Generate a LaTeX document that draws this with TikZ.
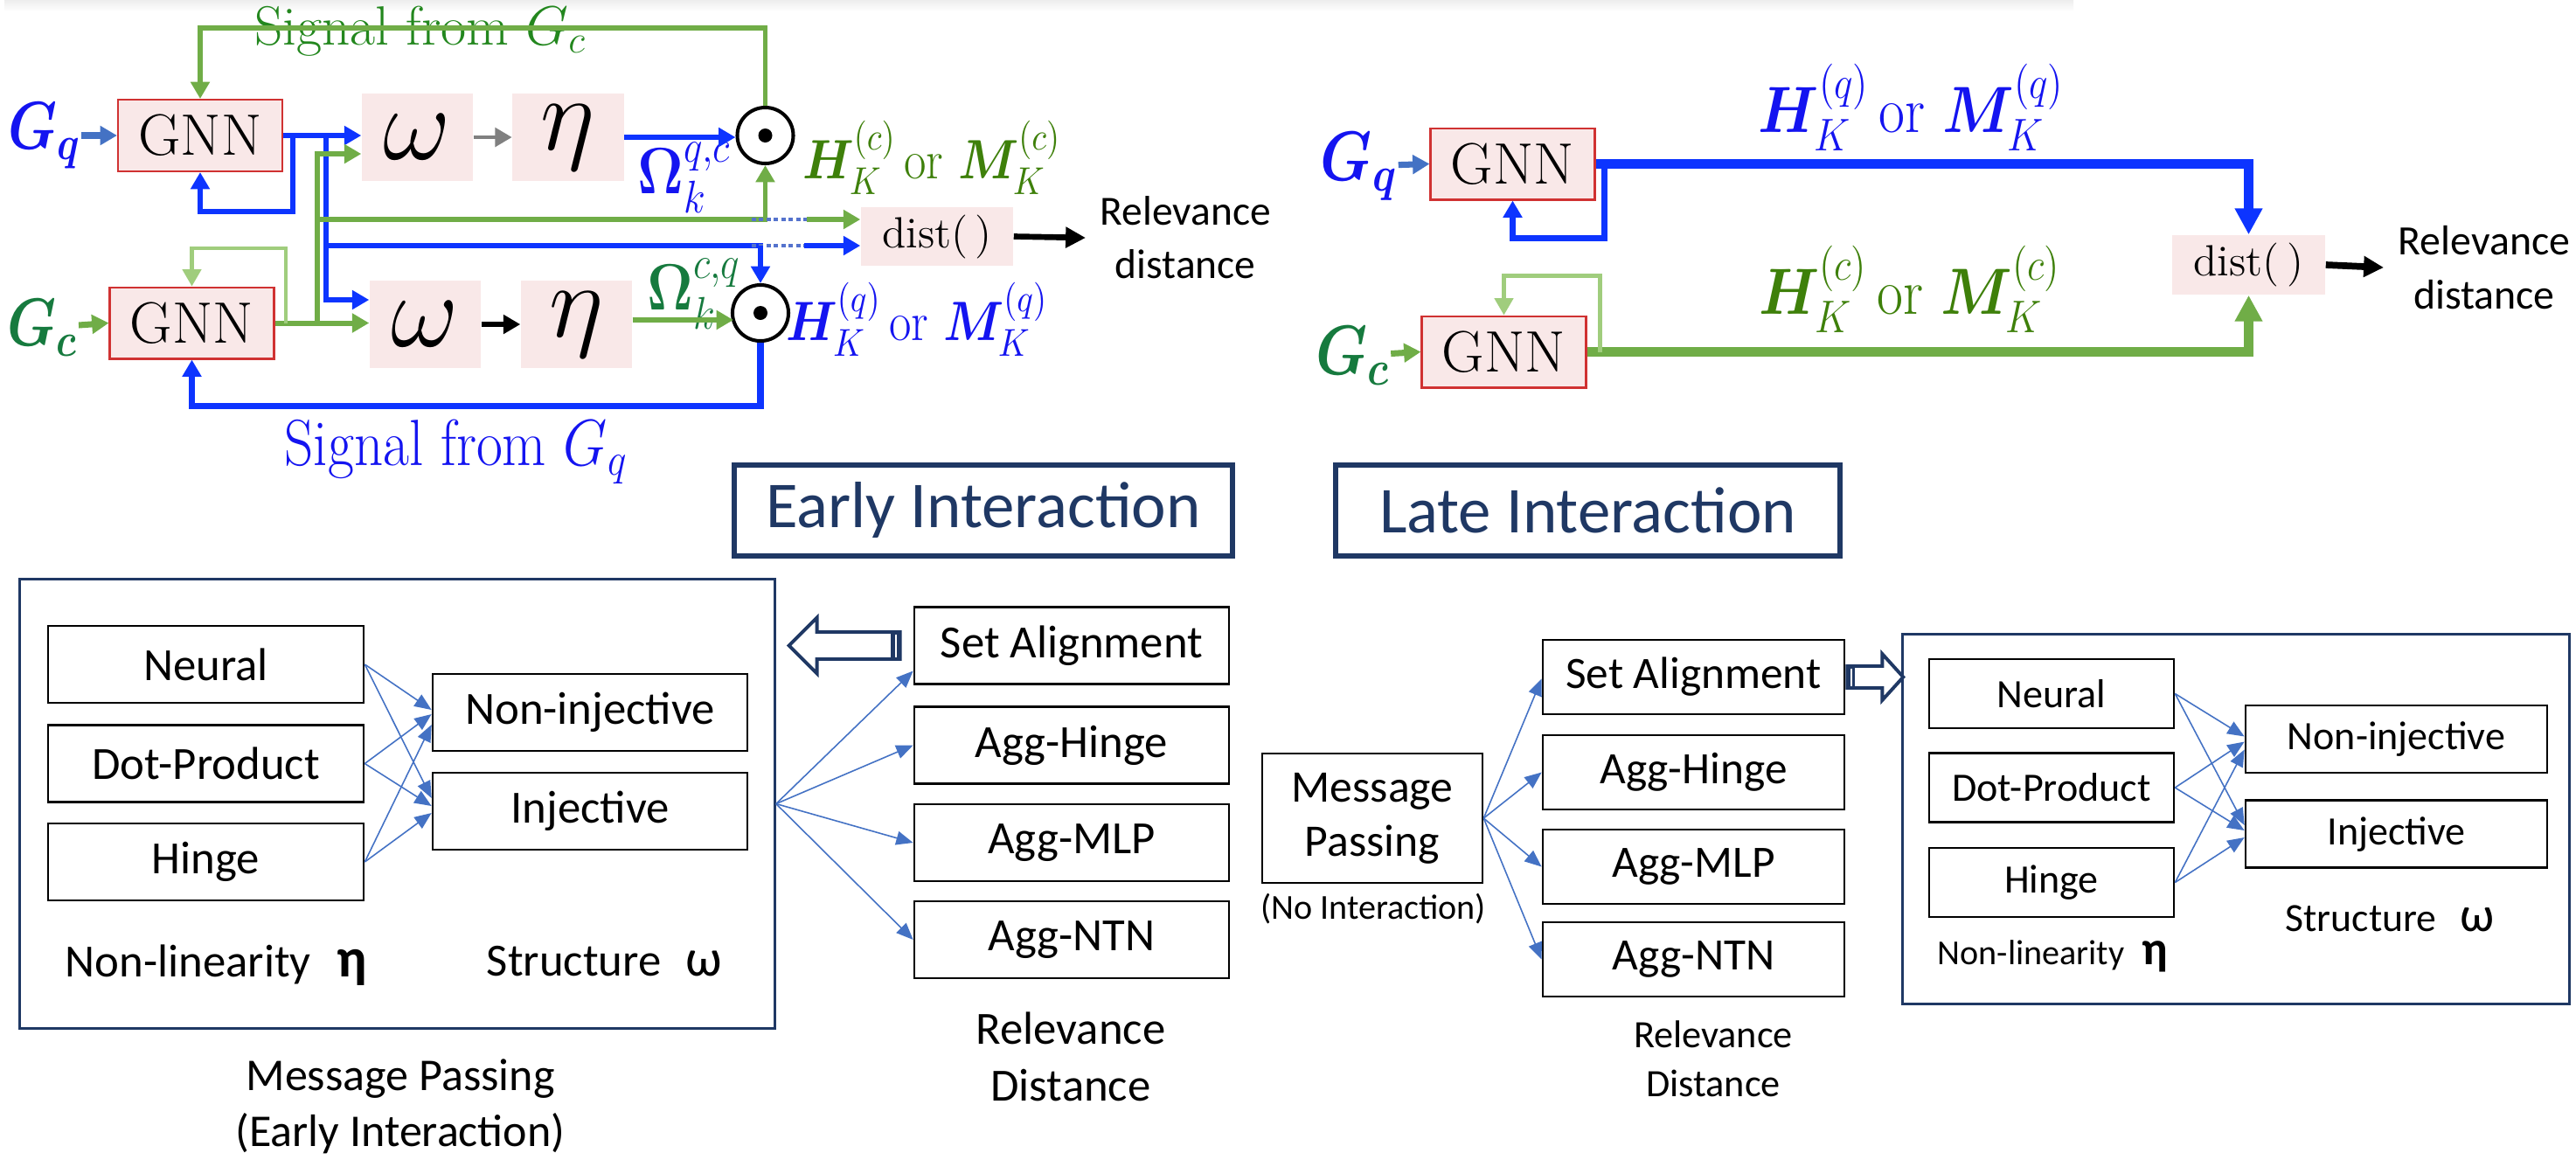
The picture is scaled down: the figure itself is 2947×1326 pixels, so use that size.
\RequirePackage{fix-cm}
\documentclass[tikz,border=0pt]{standalone}
\usepackage{graphicx}
\usepackage{amsmath}
\usepackage{bm}
\usepackage{fontspec}
\newfontfamily\calib{Carlito}
\usetikzlibrary{arrows.meta,calc}

\definecolor{lblue}{RGB}{13,52,255}
\definecolor{lgreen}{RGB}{112,173,71}
\definecolor{lgreenlt}{RGB}{160,205,125}
\definecolor{inblue}{RGB}{68,114,196}
\definecolor{pinkf}{RGB}{249,232,232}
\definecolor{gnnred}{RGB}{208,50,50}
\definecolor{navy}{RGB}{31,56,100}
\definecolor{tblue}{RGB}{20,20,240}
\definecolor{tgreen}{RGB}{62,128,10}
\definecolor{tdgreen}{RGB}{22,122,62}
\definecolor{sgreen}{RGB}{35,135,30}
\definecolor{dotblue}{RGB}{85,115,205}

\newcommand{\fs}[2]{\fontsize{#1}{#2}\selectfont}
\newcommand{\tall}[1]{\scalebox{1}[1.15]{#1}}

\begin{document}
\begin{tikzpicture}[x=0.01cm,y=-0.01cm,
  tarr/.style={-{Triangle[length=5.5pt,width=6pt]}},
  barr/.style={-{Triangle[length=8.5pt,width=8.5pt]}},
  karr/.style={-{Triangle[length=6.5pt,width=6.5pt]}},
  farr/.style={draw=inblue,line width=0.45pt,-{Triangle[length=5.5pt,width=4.5pt]}},
  blu/.style={draw=lblue,line width=1.5pt},
  grn/.style={draw=lgreen,line width=1.7pt},
  lgrn/.style={draw=lgreenlt,line width=1.2pt},
  dotl/.style={draw=dotblue,line width=1.3pt,dash pattern=on 1.4pt off 1pt},
  gnnbox/.style={draw=gnnred,line width=0.7pt,fill=pinkf,minimum width=1.875cm,minimum height=0.815cm,inner sep=0pt,font=\fs{19}{21}},
  pbox/.style={fill=pinkf,minimum width=1.27cm,minimum height=1.0cm,inner sep=0pt,font=\fs{34}{40}},
  distbox/.style={fill=pinkf,minimum width=1.74cm,minimum height=0.675cm,inner sep=0pt,font=\fs{14.2}{16}},
  odot/.style={circle,draw=black,line width=1.15pt,minimum size=0.64cm,inner sep=0pt},
  lbl/.style={inner sep=0pt,align=center},
  tbox/.style={draw=navy,line width=1.7pt,minimum height=1.03cm,inner sep=0pt,text=navy,font=\calib\fs{21.3}{25}},
  bigbox/.style={draw=navy,line width=0.9pt,inner sep=0pt},
  bbox/.style={draw=black,line width=0.7pt,minimum width=3.6cm,minimum height=0.88cm,inner sep=0pt,font=\calib\fs{15}{18}},
  rbox/.style={draw=black,line width=0.7pt,minimum width=3.45cm,minimum height=0.85cm,inner sep=0pt,font=\calib\fs{14.6}{18}},
  sbox/.style={draw=black,line width=0.7pt,minimum width=2.8cm,minimum height=0.79cm,inner sep=0pt,font=\calib\fs{13.1}{16}},
  hollow/.style={draw=navy,line width=1.1pt,fill=white},
]
\useasboundingbox (0,0) rectangle (2947,1326);
\shade[top color=gray!14,bottom color=white] (5,0) rectangle (2372,13);

% ================= top left: early interaction =================
\node[lbl,text=tblue,font=\fs{18}{20}] (gq1) at (51,155) {\scalebox{1}[1.22]{$\bm{G_q}$}};
\node[gnnbox] (gnn1) at (229,155) {GNN};
\node[pbox] (om1) at (477.5,157) {$\omega$};
\node[pbox] (eta1) at (650,157) {$\eta$};
\node[odot] (od1) at (875.5,155) {};
\fill (od1.center) circle (8);
\node[lbl,text=tdgreen,font=\fs{18}{20}] (gc1) at (49,375) {\scalebox{1}[1.22]{$\bm{G_c}$}};
\node[gnnbox] (gnn2) at (219.5,369.5) {GNN};
\node[pbox] (om2) at (486.5,371) {$\omega$};
\node[pbox] (eta2) at (659.5,371) {$\eta$};
\node[odot] (od2) at (870,358) {};
\fill (od2.center) circle (8);
\node[distbox] (dist1) at (1072,270.5) {$\mathrm{dist}(\,)$};
\node[lbl,anchor=west,inner xsep=0.16cm,font=\calib\fs{13.5}{17.4}] (rel1) at (1242,272) {Relevance\\distance};

\node[lbl,anchor=base,text=sgreen,font=\fs{18}{20}] (sigc) at (481,51) {Signal from $G_c$};
\node[lbl,text=tblue,font=\fs{18.5}{20}] (sigq) at (522,517) {\tall{Signal from $G_q$}};
\node[lbl,text=tblue,font=\fs{18.5}{20}] (omqc) at (783,203) {\tall{$\bm{\Omega}^{q,c}_k$}};
\node[lbl,text=tdgreen,font=\fs{18.5}{20}] (omcq) at (794,336) {\tall{$\bm{\Omega}^{c,q}_k$}};
\node[lbl,text=tgreen,font=\fs{15.7}{18}] (hc1) at (1066,180) {\tall{$\bm{H}^{(c)}_K\,\mathrm{or}\ \bm{M}^{(c)}_K$}};
\node[lbl,text=tblue,font=\fs{15.7}{18}] (hq1) at (1049,365) {\tall{$\bm{H}^{(q)}_K\,\mathrm{or}\ \bm{M}^{(q)}_K$}};

\coordinate (jb1) at (335,156);
\coordinate (jb2) at (373,156);
\coordinate (hb) at (373,281);
\coordinate (hbe) at (873,281);
\coordinate (hbd) at (860,281);
\coordinate (hba) at (920,281);
\coordinate (jg1) at (363,370);
\coordinate (jg2) at (327,370);
\coordinate (hg) at (363,251);
\coordinate (hgd) at (860,251);
\coordinate (hga) at (923,251);

\draw[inblue,line width=2pt,tarr] (gq1) -- (gnn1.west);
\draw[lgreen,line width=2pt,tarr] (gc1) -- (gnn2.west);
% blue paths
\draw[blu,tarr] (gnn1.east) -- (om1.west |- gnn1.east);
\draw[blu,tarr] (jb1) -- ++(0,86) -| (gnn1.south);
\draw[blu,tarr] (jb2) |- ($(om2.west)+(0,-28)$);
\draw[blu] (hb) -- (hbe);
\draw[dotl] (hbd) -- (hba);
\draw[blu,tarr] (hba) -- (dist1.west |- hba);
\draw[blu,tarr] (od2.north |- hb) -- (od2.north);
\draw[blu,tarr] (eta1.east) -- (od1.west |- eta1.east);
\draw[blu,line width=2pt,tarr] (od2.south) -- ++(0,72) -| (gnn2.south);
\draw[gray,line width=1.4pt,tarr] (om1) -- (eta1);
\draw[black,line width=1.5pt,tarr] (om2) -- (eta2);
% green paths
\draw[grn,tarr] (od1.north) -- ++(0,-89) -| (gnn1.north);
\draw[grn,tarr] (gnn2.east) -- (om2.west |- gnn2.east);
\draw[grn,tarr] (jg1) |- ($(om1.west)+(0,19)$);
\draw[grn,tarr] (hg) -| (od1.south);
\draw[dotl] (hgd) -- (hga);
\draw[grn,tarr] (hga) -- (dist1.west |- hga);
\draw[lgrn,tarr] (jg2) -- ++(0,-86) -| (gnn2.north);
\draw[grn,tarr] ($(eta2.east)+(0,-5)$) -- ($(od2.center)+(-31,8)$);
\draw[black,line width=1.9pt,karr] (dist1.east) -- (rel1.west);

% ================= top right: late interaction =================
\node[lbl,text=tblue,font=\fs{19}{20}] (gq2) at (1555,190) {\scalebox{1}[1.2]{$\bm{G_q}$}};
\node[gnnbox] (gnn3) at (1730.5,187.5) {GNN};
\node[lbl,text=tdgreen,font=\fs{19}{20}] (gc2) at (1548,407) {\scalebox{1}[1.2]{$\bm{G_c}$}};
\node[gnnbox] (gnn4) at (1720.5,402.5) {GNN};
\node[distbox,minimum width=1.75cm,minimum height=0.68cm] (dist2) at (2572.5,303) {$\mathrm{dist}(\,)$};
\node[lbl,anchor=west,inner xsep=0.16cm,font=\calib\fs{13.6}{17.6}] (rel2) at (2727,306) {Relevance\\distance};
\node[lbl,text=tblue,font=\fs{18.5}{20}] (hq2) at (2187,123) {\tall{$\bm{H}^{(q)}_K\,\mathrm{or}\ \bm{M}^{(q)}_K$}};
\node[lbl,text=tgreen,font=\fs{18.5}{20}] (hc2) at (2185,331) {\tall{$\bm{H}^{(c)}_K\,\mathrm{or}\ \bm{M}^{(c)}_K$}};

\draw[inblue,line width=2pt,tarr] (gq2) -- (gnn3.west);
\draw[lgreen,line width=2pt,tarr] (gc2) -- (gnn4.west);
\draw[lblue,line width=3.1pt,barr] (gnn3.east) -| (dist2.north);
\draw[lblue,line width=2pt,tarr] ($(gnn3.east)+(10,0)$) -- ++(0,85) -| (gnn3.south);
\draw[lgreen,line width=3.1pt,barr] (gnn4.east) -| (dist2.south);
\draw[lgrn,tarr] ($(gnn4.east)+(15,0)$) -- ++(0,-87) -| (gnn4.north);
\draw[black,line width=2.2pt,karr] (dist2.east) -- (rel2.west);

% ================= titles =================
\node[tbox,minimum width=5.7cm] (t1) at (1125,584) {Early Interaction};
\node[tbox,minimum width=5.77cm] (t2) at (1816.5,584) {Late Interaction};

% ================= bottom left =================
\node[bigbox,minimum width=8.63cm,minimum height=5.13cm] (bigL) at (454.5,919.5) {};
\node[bbox,minimum width=3.61cm] (neural1) at (235.5,760) {Neural};
\node[bbox,minimum width=3.61cm] (dot1) at (235.5,873.5) {Dot-Product};
\node[bbox,minimum width=3.61cm] (hinge1) at (235.5,986) {Hinge};
\node[bbox] (noninj1) at (675,815) {Non-injective};
\node[bbox] (inj1) at (675,928) {Injective};
\node[lbl,font=\calib\fs{15}{18}] (nl1) at (247.5,1104) {Non-linearity\hspace{0.3cm}{\fs{18}{20}\textbf{η}}};
\node[lbl,font=\calib\fs{15}{18}] (st1) at (691.5,1100) {Structure\hspace{0.28cm}{\fs{17}{20}ω}};
\node[lbl,font=\calib\fs{14.8}{18.2}] (mp1) at (458,1266) {Message Passing\\(Early Interaction)};

\node[bbox] (sa1) at (1226,738.5) {Set Alignment};
\node[bbox] (ah1) at (1226,852.5) {Agg-Hinge};
\node[bbox] (am1) at (1226,964) {Agg-MLP};
\node[bbox] (an1) at (1226,1075) {Agg-NTN};
\node[lbl,font=\calib\fs{15}{18.5}] (rd1) at (1225,1208.5) {Relevance\\Distance};

\draw[farr] (neural1.east) -- ($(noninj1.west)+(0,-3)$);
\draw[farr] (dot1.east) -- ($(noninj1.west)+(0,2)$);
\draw[farr] (hinge1.east) -- ($(noninj1.west)+(0,14)$);
\draw[farr] (neural1.east) -- ($(inj1.west)+(0,-15)$);
\draw[farr] (dot1.east) -- ($(inj1.west)+(0,-6)$);
\draw[farr] (hinge1.east) -- ($(inj1.west)+(0,2)$);

\draw[farr] (bigL.east) -- ($(sa1.west)+(0,29)$);
\draw[farr] (bigL.east) -- (ah1.west);
\draw[farr] (bigL.east) -- (am1.west);
\draw[farr] (bigL.east) -- (an1.west);

\draw[hollow] ($(sa1.west)+(-142,0)$) -- ++(32,-32) -- ++(0,16.5) -- ++(95,0) -- ++(0,31) -- ++(-95,0) -- ++(0,16.5) -- cycle;
\fill[navy] ($(sa1.west)+(-26,-15.5)$) rectangle ($(sa1.west)+(-14,15.5)$);
\draw[white,line width=0.5pt] ($(sa1.west)+(-20,-13)$) -- ($(sa1.west)+(-20,13)$);

% ================= bottom right =================
\node[sbox,minimum width=2.52cm,minimum height=1.48cm,align=center,font=\calib\fs{14.7}{17.6}] (mp2) at (1570,936) {Message\\Passing};
\node[lbl,font=\calib\fs{11.4}{14}] (ni2) at (1571,1040) {(No Interaction)};
\node[rbox] (sa2) at (1937.5,774.5) {Set Alignment};
\node[rbox] (ah2) at (1937.5,883.5) {Agg-Hinge};
\node[rbox] (am2) at (1937.5,991.5) {Agg-MLP};
\node[rbox] (an2) at (1937.5,1097.5) {Agg-NTN};
\node[lbl,font=\calib\fs{12.6}{16}] (rd2) at (1960,1211) {Relevance\\Distance};

\draw[farr] (mp2.east) -- ($(sa2.west)+(0,2)$);
\draw[farr] (mp2.east) -- (ah2.west);
\draw[farr] (mp2.east) -- (am2.west);
\draw[farr] (mp2.east) -- (an2.west);

\node[bigbox,minimum width=7.62cm,minimum height=4.22cm] (bigR) at (2558,937) {};
\node[sbox] (neural2) at (2347,793.5) {Neural};
\node[sbox] (dot2) at (2347,901) {Dot-Product};
\node[sbox] (hinge2) at (2347,1009.5) {Hinge};
\node[sbox,minimum width=3.45cm,minimum height=0.77cm] (noninj2) at (2741.5,845.5) {Non-injective};
\node[sbox,minimum width=3.45cm,minimum height=0.77cm] (inj2) at (2741.5,954) {Injective};
\node[lbl,font=\calib\fs{13}{16}] (st2) at (2734,1051) {Structure\hspace{0.27cm}{\fs{16}{18}ω}};
\node[lbl,font=\calib\fs{11.4}{14}] (nl2) at (2348.5,1094) {Non-linearity\hspace{0.2cm}{\fs{15.5}{18}\textbf{η}}};

\draw[farr] (neural2.east) -- ($(noninj2.west)+(0,-3)$);
\draw[farr] (dot2.east) -- ($(noninj2.west)+(0,3)$);
\draw[farr] (hinge2.east) -- ($(noninj2.west)+(0,12)$);
\draw[farr] (neural2.east) -- ($(inj2.west)+(0,-10)$);
\draw[farr] (dot2.east) -- ($(inj2.west)+(0,-4)$);
\draw[farr] (hinge2.east) -- ($(inj2.west)+(0,4)$);

\draw[hollow] ($(sa2.east)+(2,-12.5)$) -- ++(40,0) -- ++(0,-14) -- ++(24,26.5) -- ++(-24,26.5) -- ++(0,-14) -- ++(-40,0) -- cycle;
\fill[navy] ($(sa2.east)+(1,-12.5)$) rectangle ($(sa2.east)+(11,12.5)$);
\draw[white,line width=0.5pt] ($(sa2.east)+(6.5,-10)$) -- ++(0,20);
\end{tikzpicture}
\end{document}
